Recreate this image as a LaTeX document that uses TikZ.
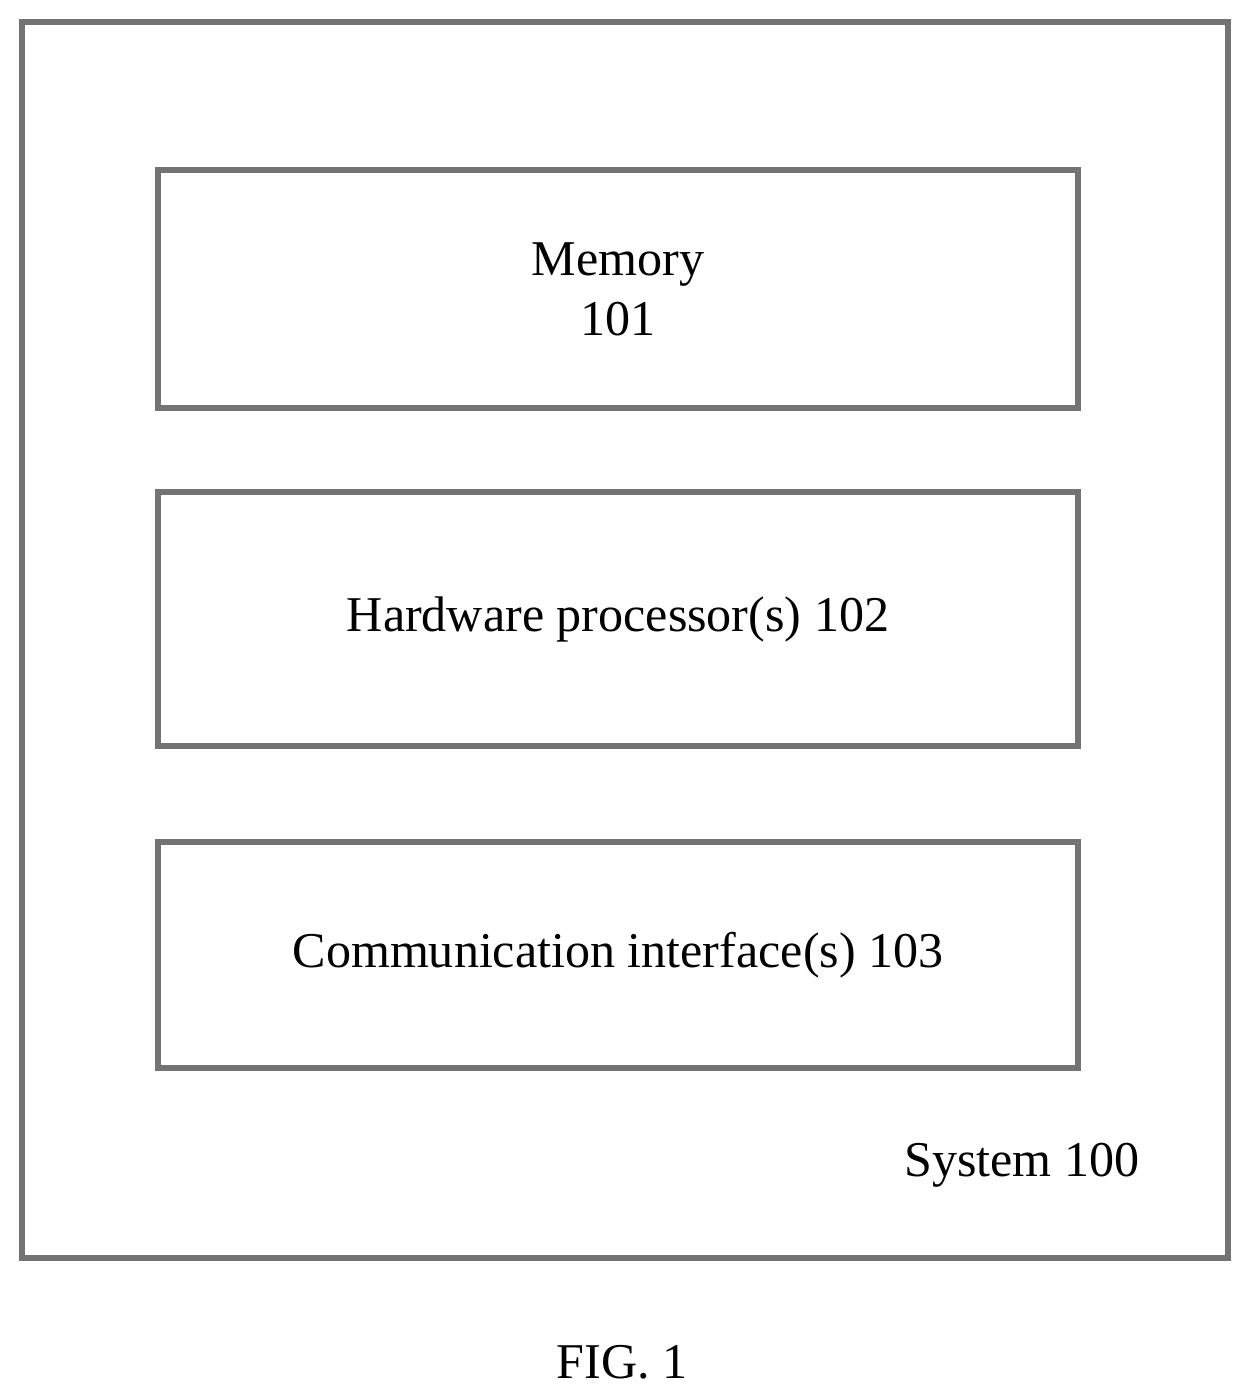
\documentclass[tikz,border=0pt]{standalone}
\usepackage{fontspec}
\setmainfont{Liberation Serif}
\tikzset{
	frame/.style  = {draw=black!55, line width=3.5pt, rectangle, inner sep=0pt},
	block/.style  = {frame, minimum width=18.4cm, align=center, font=\fontsize{28.5}{34}\selectfont},
	label/.style  = {font=\fontsize{28.5}{34}\selectfont},
}
\begin{document}
\begin{tikzpicture}[x=0.02cm, y=-0.02cm]
	\useasboundingbox (0,0) rectangle (1250,1399);
	% outer system frame
	\node[frame, minimum width=24.12cm, minimum height=24.72cm] (system) at (625,640) {};
	% inner blocks
	\node[block, minimum height=4.76cm] (memory)    at (618,289) {Memory\\101};
	\node[block, minimum height=5.08cm] (processor) at (618,619) {Hardware processor(s) 102};
	\node[block, minimum height=4.52cm] (comm)      at (618,955) {Communication interface(s) 103};
	% captions
	\node[label] (syslabel) at (1022,1165) {System 100};
	\node[label] (fig)      at (622,1362) {FIG. 1};
\end{tikzpicture}
\end{document}
